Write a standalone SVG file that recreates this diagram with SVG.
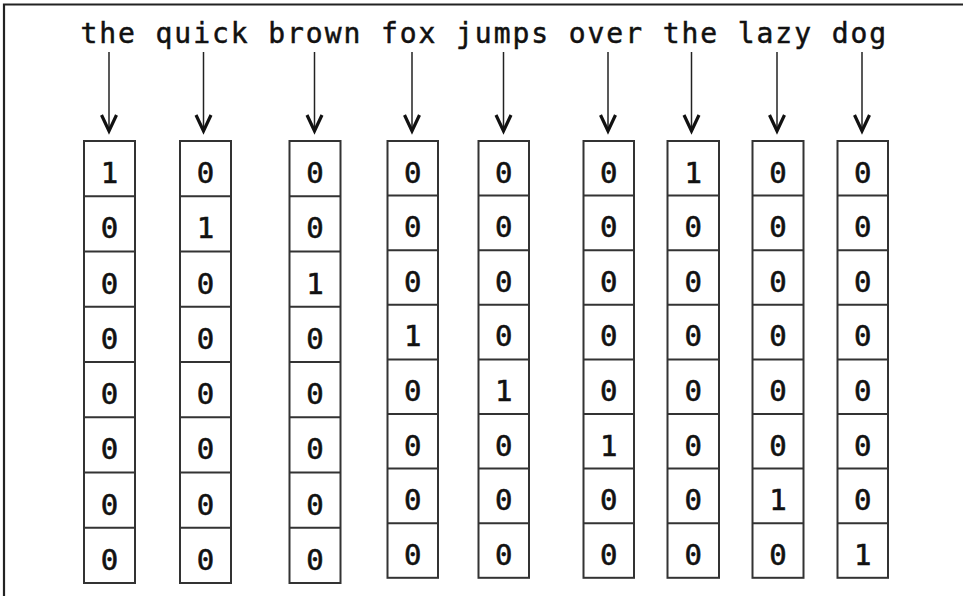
<svg xmlns="http://www.w3.org/2000/svg" width="963" height="596" viewBox="0 0 963 596">
<style>
.frame{stroke:#222;stroke-width:2.2;fill:none}
.word{font-family:"DejaVu Sans Mono","Liberation Mono",monospace;font-size:28px;letter-spacing:1.92px;fill:#111;stroke:#111;stroke-width:0.5}
.cell{fill:#fff;stroke:#333;stroke-width:2}
.div{stroke:#333;stroke-width:2}
.d{font-family:"DejaVu Sans Mono","Liberation Mono",monospace;font-size:29px;fill:#111;stroke:#111;stroke-width:0.6;text-anchor:middle}
.arr{stroke:#222;stroke-width:1.5;fill:none;marker-end:url(#ah)}
</style>
<defs>
<marker id="ah" markerUnits="userSpaceOnUse" viewBox="-20 -10 22 20" refX="0" refY="0" markerWidth="22" markerHeight="20" orient="auto" overflow="visible">
<path d="M-16,-7.5 L0,0 L-16,7.5" fill="none" stroke="#111" stroke-width="3.2" stroke-linejoin="miter"/>
</marker>
</defs>
<rect width="963" height="596" fill="#fff"/>
<path class="frame" d="M4,596 V4.5 H963"/>
<g id="words">
<g id="w1"><text class="word" x="80.5" y="43">the</text></g>
<g id="w2"><text class="word" x="155.6" y="43">quick</text></g>
<g id="w3"><text class="word" x="268.3" y="43">brown</text></g>
<g id="w4"><text class="word" x="381" y="43">fox</text></g>
<g id="w5"><text class="word" x="456.1" y="43">jumps</text></g>
<g id="w6"><text class="word" x="568.8" y="43">over</text></g>
<g id="w7"><text class="word" x="662.7" y="43">the</text></g>
<g id="w8"><text class="word" x="737.8" y="43">lazy</text></g>
<g id="w9"><text class="word" x="831.7" y="43">dog</text></g>
</g>
<g id="connectors">
<line class="arr" x1="109" y1="52" x2="109" y2="131"/>
<line class="arr" x1="203.5" y1="52" x2="203.5" y2="131"/>
<line class="arr" x1="314.5" y1="52" x2="314.5" y2="131"/>
<line class="arr" x1="412" y1="52" x2="412" y2="131"/>
<line class="arr" x1="503.5" y1="52" x2="503.5" y2="131"/>
<line class="arr" x1="608" y1="52" x2="608" y2="131"/>
<line class="arr" x1="691.5" y1="52" x2="691.5" y2="131"/>
<line class="arr" x1="777" y1="52" x2="777" y2="131"/>
<line class="arr" x1="862" y1="52" x2="862" y2="131"/>
</g>
<g id="v1">
<rect class="cell" x="84" y="141" width="51" height="442"/>
<path class="div" d="M84,196.25H135M84,251.5H135M84,306.75H135M84,362H135M84,417.25H135M84,472.5H135M84,527.75H135"/>
<text class="d" x="109.5" y="183">1</text><text class="d" x="109.5" y="238.25">0</text><text class="d" x="109.5" y="293.5">0</text><text class="d" x="109.5" y="348.75">0</text><text class="d" x="109.5" y="404">0</text><text class="d" x="109.5" y="459.25">0</text><text class="d" x="109.5" y="514.5">0</text><text class="d" x="109.5" y="569.75">0</text>
</g>
<g id="v2">
<rect class="cell" x="180" y="141" width="51" height="442"/>
<path class="div" d="M180,196.25H231M180,251.5H231M180,306.75H231M180,362H231M180,417.25H231M180,472.5H231M180,527.75H231"/>
<text class="d" x="205.5" y="183">0</text><text class="d" x="205.5" y="238.25">1</text><text class="d" x="205.5" y="293.5">0</text><text class="d" x="205.5" y="348.75">0</text><text class="d" x="205.5" y="404">0</text><text class="d" x="205.5" y="459.25">0</text><text class="d" x="205.5" y="514.5">0</text><text class="d" x="205.5" y="569.75">0</text>
</g>
<g id="v3">
<rect class="cell" x="289.5" y="141" width="51" height="442"/>
<path class="div" d="M289.5,196.25H340.5M289.5,251.5H340.5M289.5,306.75H340.5M289.5,362H340.5M289.5,417.25H340.5M289.5,472.5H340.5M289.5,527.75H340.5"/>
<text class="d" x="315" y="183">0</text><text class="d" x="315" y="238.25">0</text><text class="d" x="315" y="293.5">1</text><text class="d" x="315" y="348.75">0</text><text class="d" x="315" y="404">0</text><text class="d" x="315" y="459.25">0</text><text class="d" x="315" y="514.5">0</text><text class="d" x="315" y="569.75">0</text>
</g>
<g id="v4">
<rect class="cell" x="387.5" y="141" width="50.5" height="436.8"/>
<path class="div" d="M387.5,195.6H438M387.5,250.2H438M387.5,304.8H438M387.5,359.4H438M387.5,414H438M387.5,468.6H438M387.5,523.2H438"/>
<text class="d" x="412.75" y="182.5">0</text><text class="d" x="412.75" y="237.1">0</text><text class="d" x="412.75" y="291.7">0</text><text class="d" x="412.75" y="346.3">1</text><text class="d" x="412.75" y="400.9">0</text><text class="d" x="412.75" y="455.5">0</text><text class="d" x="412.75" y="510.1">0</text><text class="d" x="412.75" y="564.7">0</text>
</g>
<g id="v5">
<rect class="cell" x="478.5" y="141" width="50.5" height="436.8"/>
<path class="div" d="M478.5,195.6H529M478.5,250.2H529M478.5,304.8H529M478.5,359.4H529M478.5,414H529M478.5,468.6H529M478.5,523.2H529"/>
<text class="d" x="503.75" y="182.5">0</text><text class="d" x="503.75" y="237.1">0</text><text class="d" x="503.75" y="291.7">0</text><text class="d" x="503.75" y="346.3">0</text><text class="d" x="503.75" y="400.9">1</text><text class="d" x="503.75" y="455.5">0</text><text class="d" x="503.75" y="510.1">0</text><text class="d" x="503.75" y="564.7">0</text>
</g>
<g id="v6">
<rect class="cell" x="583.5" y="141" width="50.5" height="436.8"/>
<path class="div" d="M583.5,195.6H634M583.5,250.2H634M583.5,304.8H634M583.5,359.4H634M583.5,414H634M583.5,468.6H634M583.5,523.2H634"/>
<text class="d" x="608.75" y="182.5">0</text><text class="d" x="608.75" y="237.1">0</text><text class="d" x="608.75" y="291.7">0</text><text class="d" x="608.75" y="346.3">0</text><text class="d" x="608.75" y="400.9">0</text><text class="d" x="608.75" y="455.5">1</text><text class="d" x="608.75" y="510.1">0</text><text class="d" x="608.75" y="564.7">0</text>
</g>
<g id="v7">
<rect class="cell" x="667.5" y="141" width="51.5" height="436.8"/>
<path class="div" d="M667.5,195.6H719M667.5,250.2H719M667.5,304.8H719M667.5,359.4H719M667.5,414H719M667.5,468.6H719M667.5,523.2H719"/>
<text class="d" x="693.25" y="182.5">1</text><text class="d" x="693.25" y="237.1">0</text><text class="d" x="693.25" y="291.7">0</text><text class="d" x="693.25" y="346.3">0</text><text class="d" x="693.25" y="400.9">0</text><text class="d" x="693.25" y="455.5">0</text><text class="d" x="693.25" y="510.1">0</text><text class="d" x="693.25" y="564.7">0</text>
</g>
<g id="v8">
<rect class="cell" x="752.5" y="141" width="51" height="436.8"/>
<path class="div" d="M752.5,195.6H803.5M752.5,250.2H803.5M752.5,304.8H803.5M752.5,359.4H803.5M752.5,414H803.5M752.5,468.6H803.5M752.5,523.2H803.5"/>
<text class="d" x="778" y="182.5">0</text><text class="d" x="778" y="237.1">0</text><text class="d" x="778" y="291.7">0</text><text class="d" x="778" y="346.3">0</text><text class="d" x="778" y="400.9">0</text><text class="d" x="778" y="455.5">0</text><text class="d" x="778" y="510.1">1</text><text class="d" x="778" y="564.7">0</text>
</g>
<g id="v9">
<rect class="cell" x="837.5" y="141" width="50.5" height="436.8"/>
<path class="div" d="M837.5,195.6H888M837.5,250.2H888M837.5,304.8H888M837.5,359.4H888M837.5,414H888M837.5,468.6H888M837.5,523.2H888"/>
<text class="d" x="862.75" y="182.5">0</text><text class="d" x="862.75" y="237.1">0</text><text class="d" x="862.75" y="291.7">0</text><text class="d" x="862.75" y="346.3">0</text><text class="d" x="862.75" y="400.9">0</text><text class="d" x="862.75" y="455.5">0</text><text class="d" x="862.75" y="510.1">0</text><text class="d" x="862.75" y="564.7">1</text>
</g>
</svg>
